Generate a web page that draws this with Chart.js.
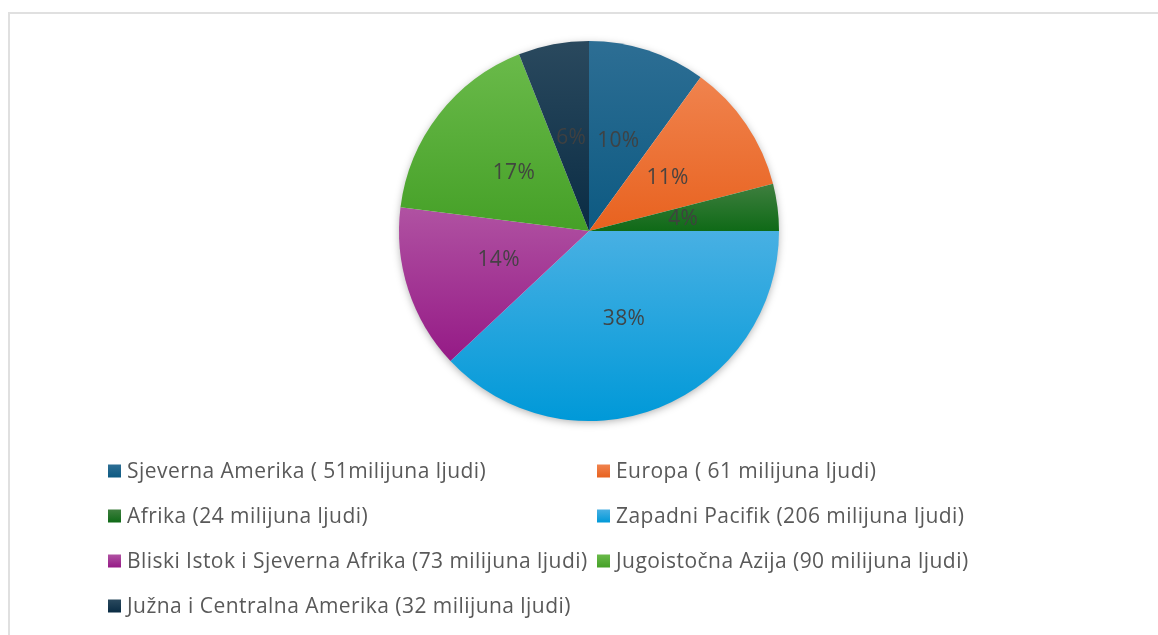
<!DOCTYPE html>
<html>
<head>
<meta charset="utf-8">
<script src="https://cdn.jsdelivr.net/npm/chart.js@4"></script>
<style>
  html, body { margin: 0; padding: 0; background: #fff; overflow: hidden; }
  #frame { position: absolute; left: 8px; top: 12px; width: 1200px; height: 700px; border: 2px solid #e0e0e0; box-sizing: border-box; }
  #wrap { position: absolute; left: 0; top: 0; width: 1158px; height: 635px; }
</style>
</head>
<body>
<div id="frame"></div>
<div id="wrap"><canvas id="pie"></canvas></div>
<script>
const regions = [
    'Sjeverna Amerika ( 51milijuna ljudi)',
    'Europa ( 61 milijuna ljudi)',
    'Afrika (24 milijuna ljudi)',
    'Zapadni Pacifik (206 milijuna ljudi)',
    'Bliski Istok i Sjeverna Afrika (73 milijuna ljudi)',
    'Jugoistočna Azija (90 milijuna ljudi)',
    'Južna i Centralna Amerika (32 milijuna ljudi)'
];
// share of each slice in percent, as printed on the slices
const shares = [10, 11, 4, 38, 14, 17, 6];
const shareLabels = ['10%', '11%', '4%', '38%', '14%', '17%', '6%'];

// top / bottom colour of each slice gradient
const topColors = ['#2d6e94', '#f0834e', '#3f7f3f', '#48b0e3', '#b052a2', '#6aba4a', '#2a495e'];
const bottomColors = ['#0d5a82', '#e8621f', '#0f6a17', '#0099d8', '#951a86', '#45a027', '#0a2c44'];

const FONT = "'Open Sans', 'Noto Sans', sans-serif";

// vertical gradient over the bounding box of each slice (angles from the data)
function sliceFill(context) {
    const chart = context.chart;
    const i = context.dataIndex;
    const area = chart.chartArea;
    if (!area) return bottomColors[i];
    const cx = (area.left + area.right) / 2;
    const cy = (area.top + area.bottom) / 2;
    const r = Math.min(area.right - area.left, area.bottom - area.top) / 2;
    const data = chart.data.datasets[0].data;
    const total = data.reduce((a, b) => a + b, 0);
    const before = data.slice(0, i).reduce((a, b) => a + b, 0);
    const a0 = -Math.PI / 2 + before / total * Math.PI * 2;
    const a1 = a0 + data[i] / total * Math.PI * 2;
    const ys = [cy, cy + Math.sin(a0) * r, cy + Math.sin(a1) * r];
    [-Math.PI / 2, Math.PI / 2, 3 * Math.PI / 2].forEach(a => {
        if (a > a0 && a < a1) ys.push(cy + Math.sin(a) * r);
    });
    const g = chart.ctx.createLinearGradient(0, Math.min(...ys), 0, Math.max(...ys));
    g.addColorStop(0, topColors[i]);
    g.addColorStop(1, bottomColors[i]);
    return g;
}

// soft shadow under the whole pie
const pieShadow = {
    id: 'pieShadow',
    beforeDatasetsDraw(chart) {
        const arc = chart.getDatasetMeta(0).data[0];
        if (!arc) return;
        const ctx = chart.ctx;
        ctx.save();
        ctx.shadowColor = 'rgba(0,0,0,0.35)';
        ctx.shadowBlur = 9;
        ctx.shadowOffsetY = 2;
        ctx.fillStyle = '#ffffff';
        ctx.beginPath();
        ctx.arc(arc.x, arc.y, arc.outerRadius - 1, 0, Math.PI * 2);
        ctx.fill();
        ctx.restore();
    }
};

// percentage labels in the middle of each slice
const sliceLabels = {
    id: 'sliceLabels',
    afterDatasetsDraw(chart) {
        const ctx = chart.ctx;
        ctx.save();
        ctx.font = '21px ' + FONT;
        ctx.letterSpacing = '0.3px';
        ctx.fillStyle = 'rgba(64,64,64,0.95)';
        ctx.textAlign = 'center';
        ctx.textBaseline = 'middle';
        chart.getDatasetMeta(0).data.forEach((arc, i) => {
            const p = arc.tooltipPosition();
            ctx.fillText(shareLabels[i], p.x, p.y);
        });
        ctx.restore();
    }
};

// two-column legend below the pie
const gridLegend = {
    id: 'gridLegend',
    afterDraw(chart) {
        const ctx = chart.ctx;
        const cols = [108, 597];
        const rowTop = 471, rowGap = 45, box = 13;
        ctx.save();
        ctx.font = '21px ' + FONT;
        ctx.letterSpacing = '0.45px';
        ctx.textBaseline = 'middle';
        regions.forEach((label, i) => {
            const x = cols[i % 2];
            const y = rowTop + Math.floor(i / 2) * rowGap;
            const g = ctx.createLinearGradient(0, y - box / 2, 0, y + box / 2);
            g.addColorStop(0, topColors[i]);
            g.addColorStop(1, bottomColors[i]);
            ctx.fillStyle = g;
            ctx.fillRect(x, y - box / 2, box, box);
            ctx.fillStyle = '#595959';
            ctx.fillText(label, x + 19, y + 1);
        });
        ctx.restore();
    }
};

new Chart(document.getElementById('pie'), {
    type: 'pie',
    data: {
        labels: regions,
        datasets: [{
            data: shares,
            backgroundColor: sliceFill,
            borderWidth: 0
        }]
    },
    options: {
        responsive: true,
        maintainAspectRatio: false,
        animation: false,
        layout: { padding: { top: 41, bottom: 214, left: 20, right: 0 } },
        plugins: {
            legend: { display: false },
            tooltip: { enabled: false }
        }
    },
    plugins: [pieShadow, sliceLabels, gridLegend]
});
</script>
</body>
</html>
